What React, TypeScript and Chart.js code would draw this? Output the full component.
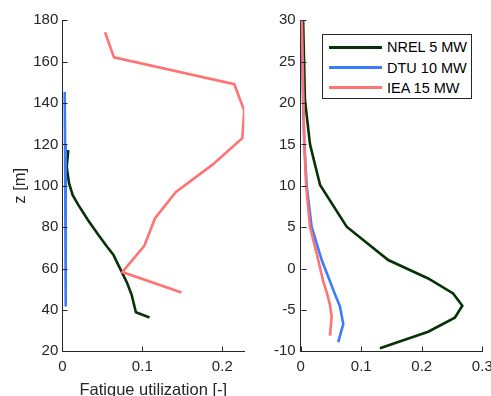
import React, { useEffect, useRef } from 'react';
import { Chart, registerables } from 'chart.js';

Chart.register(...registerables);

// ---------- data ----------
const seriesLabels = ['NREL 5 MW', 'DTU 10 MW', 'IEA 15 MW'];
const seriesColors = ['#073207', '#3a7bff', '#ff7373'];

// left panel: z [m] vs fatigue utilization
const zLeftNREL = [117.3, 109.3, 101.3, 95.5, 90.8, 83.5, 76.3, 70.5, 66.6, 62.5, 58.6, 53, 47.3, 38.9, 36.3];
const uLeftNREL = [0.0075, 0.0055, 0.0084, 0.013, 0.02, 0.032, 0.045, 0.056, 0.064, 0.069, 0.074, 0.081, 0.0867, 0.092, 0.109];
const zLeftDTU = [145.4, 120, 100, 80, 60, 41.6];
const uLeftDTU = [0.003, 0.0035, 0.004, 0.004, 0.0045, 0.0045];
const zLeftIEA = [174.2, 162.1, 149.1, 136.3, 123, 110.1, 97, 84.3, 71, 58.3, 48.4];
const uLeftIEA = [0.0534, 0.0646, 0.215, 0.2275, 0.225, 0.1875, 0.142, 0.116, 0.1025, 0.075, 0.149];

// right panel
const zRightNREL = [30, 20.4, 15, 10.1, 5.06, 1.03, -1.2, -3.0, -4.5, -5.94, -7.63, -9.64];
const uRightNREL = [0.004, 0.007, 0.0154, 0.032, 0.0759, 0.1446, 0.2106, 0.2518, 0.267, 0.2546, 0.2106, 0.1309];
const zRightDTU = [30, 20, 15, 10, 5.06, 1.03, -1.2, -3, -4.6, -6.7, -8.9];
const uRightDTU = [0.001, 0.004, 0.006, 0.0099, 0.018, 0.0347, 0.0466, 0.056, 0.0649, 0.0703, 0.062];
const zRightIEA = [30, 20, 15, 10, 5.06, 1.03, -1.5, -3, -4.4, -5.8, -8.1];
const uRightIEA = [0.002, 0.0045, 0.006, 0.009, 0.0153, 0.029, 0.037, 0.0435, 0.0484, 0.0511, 0.0484];

// axes
const leftYMin = 20, leftYMax = 180, leftYStep = 20;
const leftXMin = 0, leftXMax = 0.2275, leftXStep = 0.1;
const rightYMin = -10, rightYMax = 30, rightYStep = 5;
const rightXMin = 0, rightXMax = 0.3, rightXStep = 0.1;
const xTitle = 'Fatigue utilization [-]';
const yTitle = 'z [m]';

// ---------- style ----------
const W = 491, H = 396;
const AXIS = '#262626';
const FONT = '"Liberation Sans", Arial, Helvetica, sans-serif';
const TICK_LEN = 5;

const inwardTicks = {
  id: 'inwardTicks',
  afterDraw(chart: any) {
    const { ctx, chartArea } = chart;
    const xs = chart.scales.x, ys = chart.scales.y;
    ctx.save();
    ctx.strokeStyle = AXIS;
    ctx.lineWidth = 1;
    ctx.beginPath();
    xs.ticks.forEach((t: any) => {
      const px = Math.round(xs.getPixelForValue(t.value)) + 0.5;
      const b = Math.round(chartArea.bottom) + 0.5;
      ctx.moveTo(px, b);
      ctx.lineTo(px, b - TICK_LEN);
    });
    ys.ticks.forEach((t: any) => {
      const py = Math.round(ys.getPixelForValue(t.value)) + 0.5;
      const l = Math.round(chartArea.left) + 0.5;
      ctx.moveTo(l, py);
      ctx.lineTo(l + TICK_LEN, py);
    });
    ctx.stroke();
    ctx.restore();
  },
};

function mk(z: number[], u: number[], i: number) {
  return {
    label: seriesLabels[i],
    data: z.map((zz, k) => ({ x: u[k], y: zz })),
    showLine: true,
    borderColor: seriesColors[i],
    backgroundColor: seriesColors[i],
    borderWidth: 2.6,
    pointRadius: 0,
    fill: false,
    tension: 0,
    order: 2 - i,
  };
}

function buildConfig(opts: {
  datasets: any[];
  xMin: number; xMax: number; xStep: number;
  yMin: number; yMax: number; yStep: number;
  padRight: number; yWidth: number; yPad: number;
  showXTitle: boolean; showYTitle: boolean;
}) {
  const fmt = (v: any) => String(Math.round(Number(v) * 1000) / 1000);
  return {
    type: 'scatter',
    data: { datasets: opts.datasets },
    plugins: [inwardTicks],
    options: {
      responsive: false,
      animation: false,
      devicePixelRatio: 1,
      layout: { padding: { left: 0, top: 20.3, right: opts.padRight, bottom: 0 } },
      plugins: { legend: { display: false }, tooltip: { enabled: false } },
      scales: {
        x: {
          type: 'linear',
          min: opts.xMin, max: opts.xMax,
          grid: { display: false, drawTicks: false },
          border: { display: true, color: AXIS, width: 1 },
          ticks: {
            stepSize: opts.xStep, includeBounds: false, padding: 7,
            color: AXIS, font: { family: FONT, size: 15 }, maxRotation: 0,
            callback: fmt,
          },
          title: {
            display: opts.showXTitle, text: xTitle, color: AXIS,
            font: { family: FONT, size: 16.5, lineHeight: 0.62 }, padding: 0,
          },
          afterFit: (s: any) => { s.height = H - 351.3; s.paddingLeft = 0; s.paddingRight = 0; },
        },
        y: {
          type: 'linear',
          min: opts.yMin, max: opts.yMax,
          grid: { display: false, drawTicks: false },
          border: { display: true, color: AXIS, width: 1 },
          ticks: {
            stepSize: opts.yStep, includeBounds: false, padding: opts.yPad,
            color: AXIS, font: { family: FONT, size: 15 }, callback: fmt,
          },
          title: {
            display: opts.showYTitle, text: yTitle, color: AXIS,
            font: { family: FONT, size: 16.5, lineHeight: 1.2 }, padding: { top: 10.6, bottom: 0 },
          },
          afterFit: (s: any) => { s.width = opts.yWidth; s.paddingTop = 0; s.paddingBottom = 0; },
        },
      },
    },
  } as any;
}

export default function App() {
  const leftRef = useRef<HTMLCanvasElement | null>(null);
  const rightRef = useRef<HTMLCanvasElement | null>(null);

  useEffect(() => {
    const c1 = new Chart(leftRef.current as HTMLCanvasElement, buildConfig({
      datasets: [mk(zLeftNREL, uLeftNREL, 0), mk(zLeftDTU, uLeftDTU, 1), mk(zLeftIEA, uLeftIEA, 2)],
      xMin: leftXMin, xMax: leftXMax, xStep: leftXStep,
      yMin: leftYMin, yMax: leftYMax, yStep: leftYStep,
      padRight: W - 244.3, yWidth: 62.3, yPad: 4,
      showXTitle: true, showYTitle: true,
    }));
    const c2 = new Chart(rightRef.current as HTMLCanvasElement, buildConfig({
      datasets: [mk(zRightNREL, uRightNREL, 0), mk(zRightDTU, uRightDTU, 1), mk(zRightIEA, uRightIEA, 2)],
      xMin: rightXMin, xMax: rightXMax, xStep: rightXStep,
      yMin: rightYMin, yMax: rightYMax, yStep: rightYStep,
      padRight: W - 482.3, yWidth: 300.7, yPad: 5,
      showXTitle: false, showYTitle: false,
    }));
    return () => { c1.destroy(); c2.destroy(); };
  }, []);

  const canvasStyle: React.CSSProperties = { position: 'absolute', left: 0, top: 0, width: W, height: H };

  return (
    <div style={{ position: 'fixed', left: 0, top: 0, width: W, height: H, overflow: 'hidden', background: '#fff' }}>
      <canvas ref={leftRef} width={W} height={H} style={canvasStyle} />
      <canvas ref={rightRef} width={W} height={H} style={canvasStyle} />
      <div style={{
        position: 'absolute', left: 322, top: 34, width: 150, height: 65, boxSizing: 'border-box',
        border: `1px solid ${AXIS}`, background: '#fff', fontFamily: FONT, fontSize: 14.5, color: '#000',
      }}>
        {seriesLabels.map((lab, i) => (
          <div key={lab} style={{ position: 'absolute', left: 0, top: [12.2, 32.8, 52.8][i] - 10, height: 20, width: '100%' }}>
            <div style={{ position: 'absolute', left: 5.5, top: 8.5, width: 53.5, height: 3, background: seriesColors[i] }} />
            <span style={{ position: 'absolute', left: 64, top: 0, lineHeight: '20px', whiteSpace: 'nowrap' }}>{lab}</span>
          </div>
        ))}
      </div>
    </div>
  );
}
